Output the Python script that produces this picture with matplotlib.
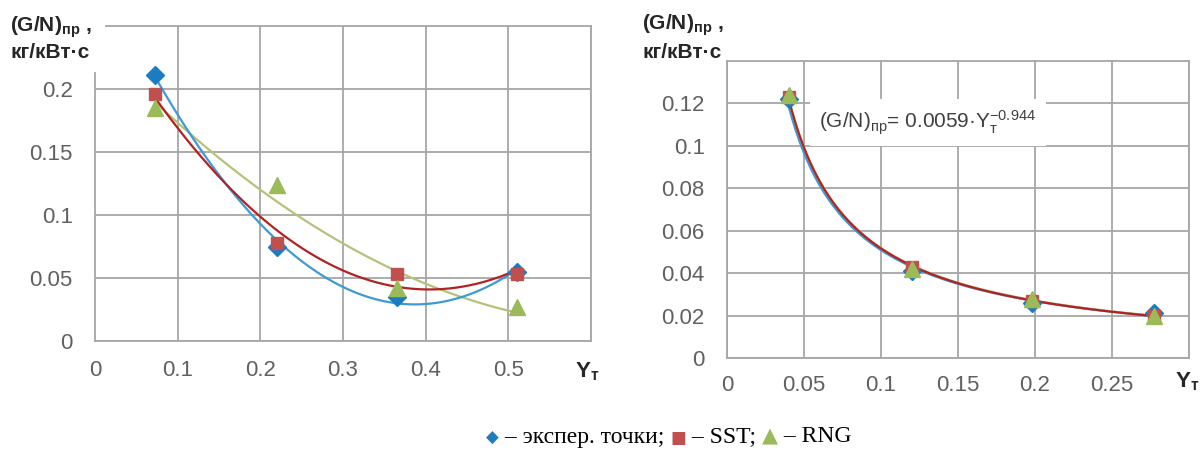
import numpy as np
import matplotlib
matplotlib.use("Agg")
import matplotlib.pyplot as plt
from matplotlib.offsetbox import TextArea, HPacker, AnchoredOffsetbox

plt.rcParams['font.family'] = ['Liberation Sans', 'DejaVu Sans']
plt.rcParams['mathtext.fontset'] = 'custom'
plt.rcParams['mathtext.rm'] = 'Liberation Sans'
plt.rcParams['mathtext.it'] = 'Liberation Sans'
plt.rcParams['mathtext.bf'] = 'Liberation Sans:bold'

# left chart: three series + quadratic trendlines
yt_left = [0.073, 0.22, 0.365, 0.51]
exp_left = [0.211, 0.075, 0.035, 0.055]
sst_left = [0.196, 0.078, 0.053, 0.053]
rng_left = [0.185, 0.124, 0.042, 0.027]

# right chart: three series + power trendlines
yt_right = [0.040, 0.120, 0.198, 0.277]
exp_right = [0.122, 0.041, 0.026, 0.021]
sst_right = [0.123, 0.043, 0.027, 0.020]
rng_right = [0.124, 0.042, 0.028, 0.020]

eq_text = r'$\mathrm{(G/N)_{пр}}$= 0.0059·Y$_\mathrm{т}^{\mathrm{-0.944}}$'

c_blue, c_blue_line = '#1b7cc2', '#3d9ad6'
c_red, c_red_line = '#c0504d', '#b22222'
c_green, c_green_line = '#9bbb59', '#b5c27a'
grid_c = '#a6a6a6'
tick_c = '#606060'

fig = plt.figure(figsize=(12.02, 4.5), dpi=100)
axL = fig.add_axes([95 / 1202, 1 - 341 / 450, 496 / 1202, 315 / 450])
axR = fig.add_axes([727 / 1202, 1 - 358 / 450, 462 / 1202, 297 / 450])


def style(ax, xmax, ymax, xt, yt, xpad, ypad):
    ax.set_xlim(0, xmax)
    ax.set_ylim(0, ymax)
    ax.set_xticks(xt)
    ax.set_yticks(yt)
    ax.set_xticklabels(['%g' % v for v in xt[:-1]] + [''])
    ax.set_yticklabels(['%g' % v for v in yt])
    ax.grid(True, color=grid_c, lw=1.3)
    ax.set_axisbelow(True)
    for s in ax.spines.values():
        s.set_color(grid_c)
        s.set_linewidth(1.3)
    ax.tick_params(length=0, labelsize=16, labelcolor=tick_c)
    ax.tick_params(axis='x', pad=xpad)
    ax.tick_params(axis='y', pad=ypad)


style(axL, 0.6, 0.25, [0, 0.1, 0.2, 0.3, 0.4, 0.5, 0.6],
      [0, 0.05, 0.1, 0.15, 0.2], 14, 16)
style(axR, 0.3, 0.14, [0, 0.05, 0.1, 0.15, 0.2, 0.25, 0.3],
      [0, 0.02, 0.04, 0.06, 0.08, 0.1, 0.12], 12, 16)
# the corner title hides the top of the left axis
axL.spines['left'].set_bounds(0, 0.213)
axL.spines['top'].set_bounds(0.013, 0.6)
axL.get_xgridlines()[0].set_visible(False)

# left: polynomial (order 2) trendlines
xs = np.linspace(yt_left[0], yt_left[-1], 200)
for ys, col in [(rng_left, c_green_line), (exp_left, c_blue_line), (sst_left, c_red_line)]:
    p = np.polyfit(yt_left, ys, 2)
    axL.plot(xs, np.polyval(p, xs), color=col, lw=1.6, zorder=2)
axL.plot(yt_left, exp_left, 'D', color=c_blue, ms=9, zorder=3)
axL.plot(yt_left, sst_left, 's', color=c_red, ms=8, zorder=3)
axL.plot(yt_left, rng_left, '^', color=c_green, ms=11, zorder=4)

# right: power trendlines
xs = np.linspace(yt_right[0], yt_right[-1], 200)
for ys, col in [(exp_right, c_blue_line), (rng_right, c_green_line), (sst_right, c_red_line)]:
    b, a = np.polyfit(np.log(yt_right), np.log(ys), 1)
    axR.plot(xs, np.exp(a) * xs ** b, color=col, lw=1.6, zorder=2)
axR.plot(yt_right, exp_right, 'D', color=c_blue, ms=9, zorder=3)
axR.plot(yt_right, sst_right, 's', color=c_red, ms=8, zorder=3)
axR.plot(yt_right, rng_right, '^', color=c_green, ms=11, zorder=4)

axR.text(0.06, 0.111, eq_text, fontsize=15, color='#404040', va='center', ha='left',
         zorder=5, bbox=dict(boxstyle='square,pad=0.45', fc='white', ec='none'))

# axis titles (Excel-style, in the corner)
for x0, y1, y2 in [(10, 27, 52), (642, 25, 53)]:
    fig.text(x0 / 1202, 1 - y1 / 450, r'$\mathbf{(G/N)_{пр}}$ ,', fontsize=15,
             fontweight='bold', color='#262626', va='center', ha='left',
             bbox=dict(boxstyle='square,pad=0.1', fc='white', ec='none'))
    fig.text(x0 / 1202, 1 - y2 / 450, 'кг/кВт·с', fontsize=15,
             fontweight='bold', color='#262626', va='center', ha='left',
             bbox=dict(boxstyle='square,pad=0.15', fc='white', ec='none'))

fig.text(587 / 1202, 1 - 372 / 450, r'$\mathbf{Y_{т}}$', fontsize=16, color='#262626',
         va='center', ha='center')
fig.text(1187 / 1202, 1 - 382 / 450, r'$\mathbf{Y_{т}}$', fontsize=16, color='#262626',
         va='center', ha='center')

# legend line at the bottom
serif = ['Liberation Serif', 'DejaVu Serif']
sym = ['DejaVu Sans']
parts = [
    TextArea('◆', textprops=dict(color=c_blue, fontsize=12, family=sym)),
    TextArea(' – экспер. точки; ', textprops=dict(color='black', fontsize=17, family=serif)),
    TextArea('■', textprops=dict(color=c_red, fontsize=12, family=sym)),
    TextArea(' – SST; ', textprops=dict(color='black', fontsize=17, family=serif)),
    TextArea('▲', textprops=dict(color=c_green, fontsize=15, family=sym)),
    TextArea(' – RNG', textprops=dict(color='black', fontsize=17, family=serif)),
]
box = HPacker(children=parts, align='baseline', pad=0, sep=0)
anchored = AnchoredOffsetbox(loc='center', child=box, frameon=False,
                             bbox_to_anchor=(669 / 1202, 1 - 437 / 450),
                             bbox_transform=fig.transFigure, borderpad=0)
fig.add_artist(anchored)

fig.savefig('out.png', dpi=100)
